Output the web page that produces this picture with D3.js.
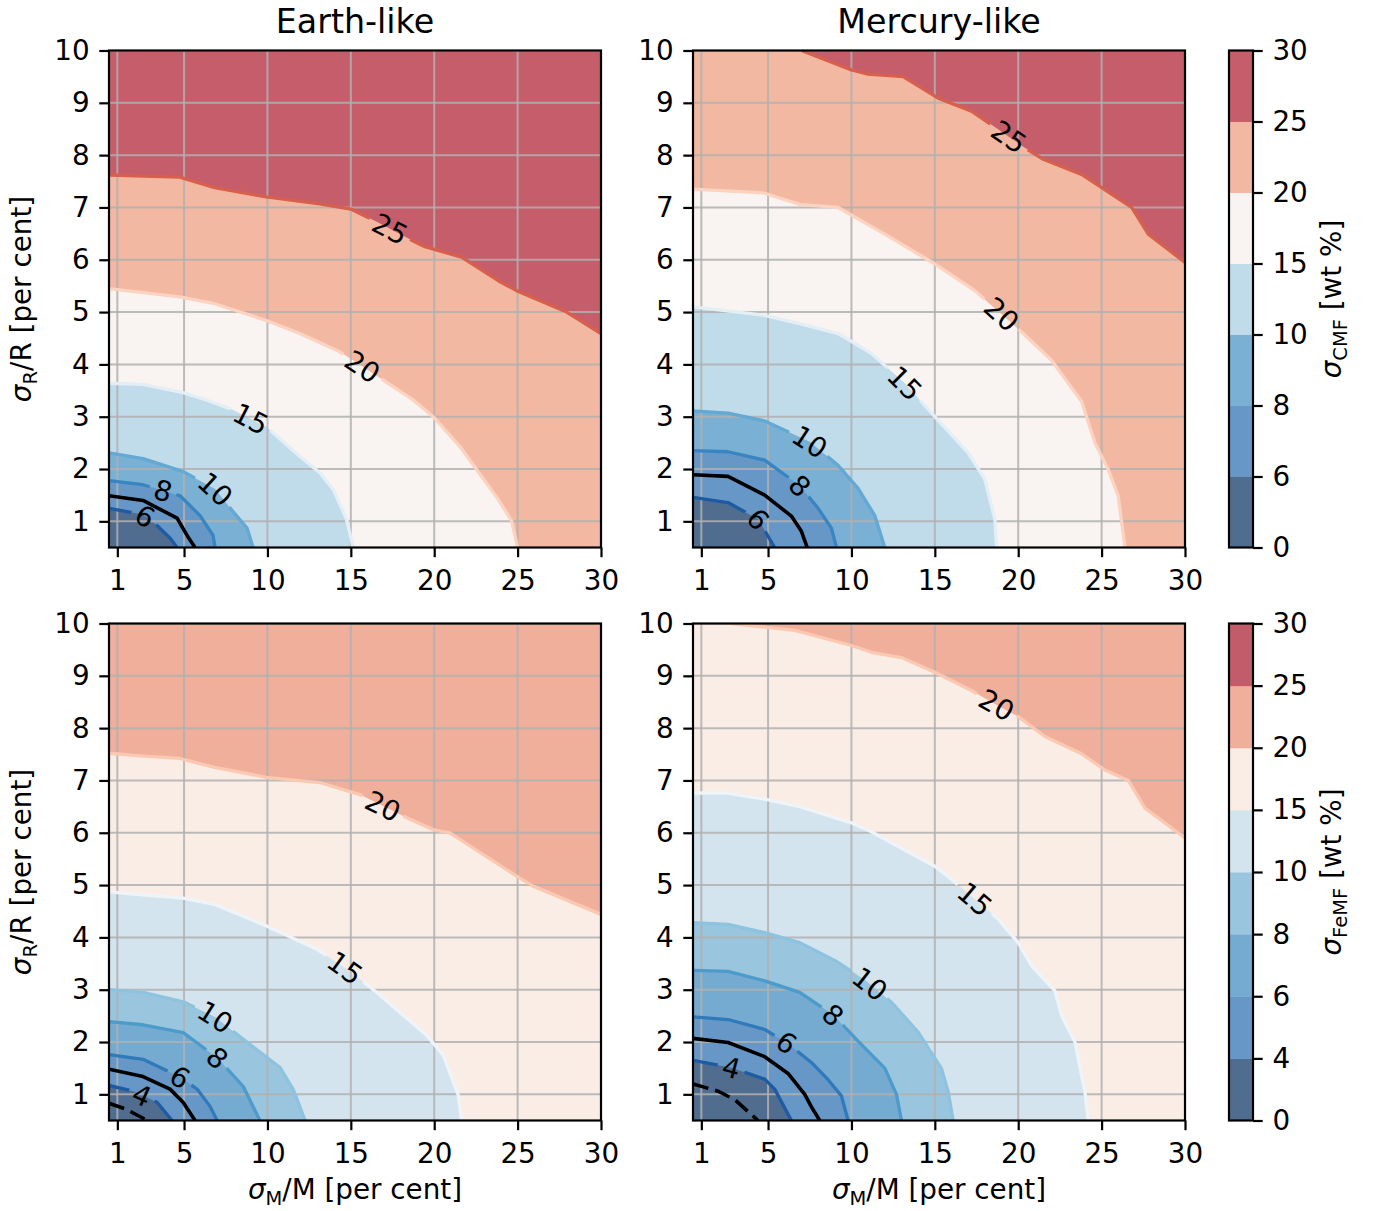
<!DOCTYPE html>
<html lang="en">
<head>
	<meta charset="utf-8">
	<title>CMF and FeMF uncertainty</title>
	<script src="https://d3js.org/d3.v7.min.js"></script>
	<style>
	body {margin: 0; background: #fff;}
	text {font-family: "DejaVu Sans", sans-serif; fill: #000;}
	</style>
</head>
<body>
<div id="chart"></div>
<script>

// Axis ticks and colourbar levels
var xTicks = [1, 5, 10, 15, 20, 25, 30];
var yTicks = [1, 2, 3, 4, 5, 6, 7, 8, 9, 10];
var cmfLevels = [0, 6, 8, 10, 15, 20, 25, 30];
var femfLevels = [0, 4, 6, 8, 10, 15, 20, 25, 30];
var titles = ["Earth-like", "Mercury-like"];

// Contour lines: [level, [[sigmaM/M, sigmaR/R], ...]]
var earthCmf = [
	[25, [[0.5,7.62],[4.74,7.58],[6.84,7.38],[9.94,7.2],[13.14,7.07],[15,6.97],[16.64,6.71],[18.74,6.36],[19.44,6.25],[21.64,6.05],[23.84,5.6],[24.94,5.41],[27.94,5.0],[30,4.59]]],
	[20, [[0.5,5.45],[4.74,5.29],[6.84,5.16],[9.94,4.84],[11.94,4.59],[14.34,4.24],[16.94,3.7],[18.74,3.32],[19.94,3.0],[21.54,2.43],[22.54,1.99],[23.84,1.42],[24.64,1.01],[25.0,0.5]]],
	[15, [[0.5,3.64],[2.54,3.62],[4.94,3.46],[6.34,3.32],[7.94,3.13],[9.94,2.81],[11.94,2.24],[13.14,1.93],[13.94,1.61],[14.74,1.04],[15.14,0.5]]],
	[10, [[0.5,2.31],[2.54,2.2],[4.96,1.95],[6.86,1.62],[7.95,1.18],[8.78,0.87],[9.14,0.5]]],
	[8, [[0.5,1.78],[2.54,1.7],[4.76,1.49],[5.96,1.11],[6.74,0.73],[6.86,0.5]]],
	[6, [[0.5,1.25],[2.54,1.13],[3.38,0.92],[4.16,0.68],[4.58,0.5]]]
];
var earthCmfRef = [[0.5,1.49],[2.54,1.4],[4.58,1.06],[5.18,0.73],[5.66,0.5]];

var mercuryCmf = [
	[25, [[7.0,10],[10.0,9.63],[11.0,9.55],[13.1,9.5],[15.2,9.09],[17.2,8.84],[18.4,8.58],[20.4,8.14],[21.5,7.92],[23.8,7.63],[26.8,7.0],[27.8,6.49],[30,5.95]]],
	[20, [[0.5,7.35],[4.7,7.28],[6.9,7.06],[9.2,7.0],[12.0,6.49],[15.0,5.92],[17.4,5.41],[20.2,4.62],[22.0,4.08],[23.8,3.29],[24.6,2.5],[25.4,1.99],[26.0,1.48],[26.4,0.5]]],
	[15, [[0.5,5.1],[4.7,4.94],[6.9,4.78],[9.2,4.59],[11.2,4.21],[13.2,3.64],[15.0,3.0],[17.0,2.31],[18.0,1.8],[18.6,1.04],[18.7,0.5]]],
	[10, [[0.5,3.11],[2.6,3.07],[4.8,2.92],[7.5,2.52],[9.2,2.07],[10.4,1.63],[11.4,1.11],[12.0,0.5]]],
	[8, [[0.5,2.35],[2.6,2.33],[4.8,2.17],[6.9,1.68],[8.0,1.25],[8.8,0.87],[9.1,0.5]]],
	[6, [[0.5,1.46],[2.6,1.36],[4.4,1.04],[5.4,0.5]]]
];
var mercuryCmfRef = [[0.5,1.89],[2.6,1.86],[4.8,1.5],[6.4,1.1],[7.0,0.81],[7.35,0.5]];

var earthFemf = [
	[20, [[0.5,7.52],[2.34,7.47],[4.74,7.42],[6.84,7.25],[9.94,7.06],[13.14,6.96],[15.54,6.73],[18.54,6.26],[19.94,6.06],[20.94,6.0],[24.94,5.17],[25.94,4.98],[30,4.44]]],
	[15, [[0.5,4.87],[2.34,4.82],[4.94,4.75],[6.84,4.63],[9.94,4.22],[12.94,3.78],[14.74,3.4],[16.54,2.95],[17.94,2.57],[19.54,2.13],[20.54,1.75],[21.44,0.99],[21.64,0.5]]],
	[10, [[0.5,3.0],[2.54,2.95],[4.95,2.77],[6.86,2.48],[8.36,2.1],[10.76,1.51],[11.55,1.09],[12.26,0.5]]],
	[8, [[0.5,2.39],[2.54,2.33],[4.95,2.18],[6.98,1.7],[8.55,1.15],[9.55,0.5]]],
	[6, [[0.5,1.76],[2.54,1.67],[4.76,1.33],[5.78,1.1],[6.56,0.77],[6.98,0.5]]],
	[4, [[0.5,1.17],[1.94,1.06],[3.38,0.85],[4.28,0.5]]]
];
var earthFemfRef = [[0.5,1.48],[2.54,1.34],[4.16,1.1],[4.94,0.85],[5.66,0.5]];
var earthFemfDash = [[0.5,0.83],[1.5,0.72],[2.8,0.5]];

var mercuryFemf = [
	[20, [[2.8,10],[6.6,9.87],[10.0,9.58],[11.2,9.45],[13.0,9.35],[15.0,9.07],[17.2,8.72],[18.6,8.46],[20.0,8.22],[21.6,7.84],[23.8,7.51],[25.2,7.2],[26.6,7.0],[27.6,6.47],[30,5.9]]],
	[15, [[0.5,6.76],[2.6,6.76],[5.0,6.63],[6.9,6.5],[10.0,6.19],[11.2,6.02],[13.2,5.67],[15.0,5.36],[16.0,5.11],[17.4,4.73],[18.8,4.35],[20.0,3.9],[20.8,3.46],[22.2,2.98],[22.6,2.51],[23.4,2.0],[24.0,1.05],[24.2,0.5]]],
	[10, [[0.5,4.28],[2.6,4.25],[4.8,4.09],[6.9,3.9],[9.0,3.56],[10.8,3.19],[12.4,2.76],[14.0,2.19],[15.4,1.49],[15.8,1.05],[16.1,0.5]]],
	[8, [[0.5,3.37],[2.6,3.35],[4.8,3.17],[6.9,2.95],[8.9,2.52],[10.6,1.95],[12.0,1.5],[12.7,1.0],[13.0,0.5]]],
	[6, [[0.5,2.48],[2.6,2.43],[4.8,2.24],[6.1,1.99],[7.6,1.61],[8.6,1.28],[9.4,0.97],[9.8,0.5]]],
	[4, [[0.5,1.65],[2.8,1.51],[4.8,1.29],[5.4,1.1],[6.4,0.5]]]
];
var mercuryFemfRef = [[0.5,2.07],[2.6,1.99],[4.8,1.72],[6.2,1.4],[7.2,1.0],[7.6,0.76],[8.1,0.5]];
var mercuryFemfDash = [[0.5,1.2],[2.0,1.06],[3.0,0.9],[4.4,0.5]];

// Inline contour labels: [level, sigmaM/M where the label sits]
var earthCmfLabels = [[25,17.35],[20,15.7],[15,9.0],[10,6.87],[8,3.74],[6,2.66]];
var mercuryCmfLabels = [[25,19.45],[20,19.0],[15,13.2],[10,7.5],[8,6.9],[6,4.4]];
var earthFemfLabels = [[20,16.93],[15,14.65],[10,6.87],[8,6.99],[6,4.76],[4,2.48]];
var mercuryFemfLabels = [[20,18.7],[15,17.4],[10,11.1],[8,8.9],[6,6.1],[4,2.8]];

// Colours
var cmfFill = ["#506c8f", "#6797c7", "#7ab0d4", "#c0dceb", "#f9f3f1", "#f3b8a1", "#c55d6b"];
var femfFill = ["#506c8f", "#6797c7", "#75abd1", "#99c6de", "#d4e4ee", "#faede6", "#f0af9b", "#c35c6a"];
var cmfLine = {6: "#1d5ba3", 8: "#3885c1", 10: "#64a8d4", 15: "#e3eef5", 20: "#fbd3c0", 25: "#d6604d"};
var femfLine = {4: "#1d5ba3", 6: "#3079ba", 8: "#4d9bcb", 10: "#8ec3df", 15: "#eef4f8", 20: "#fbc8b2"};

// Layout
var fs = 27.8;
var plotW = 492, plotH = 497;
var colX = [109, 693];
var rowY = [50.5, 623.5];
var cbX = 1229, cbW = 24;

var svg = d3.select("#chart").append("svg")
	.attr("width", 1373)
	.attr("height", 1211);
var defs = svg.append("defs");

var panels = [
	{col: 0, row: 0, lines: earthCmf, ref: earthCmfRef, dash: null, labels: earthCmfLabels, levels: cmfLevels, fill: cmfFill, stroke: cmfLine},
	{col: 1, row: 0, lines: mercuryCmf, ref: mercuryCmfRef, dash: null, labels: mercuryCmfLabels, levels: cmfLevels, fill: cmfFill, stroke: cmfLine},
	{col: 0, row: 1, lines: earthFemf, ref: earthFemfRef, dash: earthFemfDash, labels: earthFemfLabels, levels: femfLevels, fill: femfFill, stroke: femfLine},
	{col: 1, row: 1, lines: mercuryFemf, ref: mercuryFemfRef, dash: mercuryFemfDash, labels: mercuryFemfLabels, levels: femfLevels, fill: femfFill, stroke: femfLine}
];

// value of a polyline at a given x
function interp(pts, xv) {
	for (var i = 0; i < pts.length - 1; i++) {
		var a = pts[i], b = pts[i + 1];
		if (xv >= a[0] && xv <= b[0]) {
			var t = (b[0] === a[0]) ? 0 : (xv - a[0]) / (b[0] - a[0]);
			return a[1] + t * (b[1] - a[1]);
		}
	}
	return pts[pts.length - 1][1];
}

// sigma with a roman subscript
function sigmaText(sel, sub, rest) {
	sel.append("tspan").attr("font-style", "italic").text("σ");
	sel.append("tspan").attr("font-size", fs * 0.7).attr("dy", 6).text(sub);
	sel.append("tspan").attr("dy", -6).text(rest);
}

panels.forEach(function(p, pi) {
	var x0 = colX[p.col], y0 = rowY[p.row];
	var x = d3.scaleLinear().domain([0.5, 30]).range([x0, x0 + plotW]);
	var y = d3.scaleLinear().domain([0.5, 10]).range([y0 + plotH, y0]);
	var line = d3.line().x(function(d){return x(d[0]);}).y(function(d){return y(d[1]);});

	defs.append("clipPath").attr("id", "clip" + pi)
		.append("rect").attr("x", x0).attr("y", y0).attr("width", plotW).attr("height", plotH);

	var g = svg.append("g").attr("clip-path", "url(#clip" + pi + ")");

	// filled bands, from the top band down
	g.append("rect")
		.attr("x", x0).attr("y", y0).attr("width", plotW).attr("height", plotH)
		.attr("fill", p.fill[p.levels.indexOf(p.lines[0][0])]);
	p.lines.forEach(function(l) {
		var pts = l[1].concat([[30, 0.5], [0.5, 0.5], [0.5, 10]]);
		g.append("path")
			.attr("d", line(pts) + "Z")
			.attr("fill", p.fill[p.levels.indexOf(l[0]) - 1]);
	});

	// grid
	g.selectAll(".gx").data(xTicks).enter().append("line")
		.attr("x1", function(d){return x(d);}).attr("x2", function(d){return x(d);})
		.attr("y1", y0).attr("y2", y0 + plotH)
		.attr("stroke", "#b0b0b0").attr("stroke-width", 2).attr("stroke-opacity", 0.85);
	g.selectAll(".gy").data(yTicks).enter().append("line")
		.attr("y1", function(d){return y(d);}).attr("y2", function(d){return y(d);})
		.attr("x1", x0).attr("x2", x0 + plotW)
		.attr("stroke", "#b0b0b0").attr("stroke-width", 2).attr("stroke-opacity", 0.85);

	// labels first, so their width can cut the lines
	var lab = svg.append("g");
	var gaps = {};
	p.labels.forEach(function(lb) {
		var pts = p.lines.find(function(l){return l[0] === lb[0];})[1];
		var px = x(lb[1]), py = y(interp(pts, lb[1]));
		var xa = Math.max(0.5, lb[1] - 1), xb = Math.min(30, lb[1] + 1);
		var ang = Math.atan2(y(interp(pts, xb)) - y(interp(pts, xa)), x(xb) - x(xa)) * 180 / Math.PI;
		var t = lab.append("text")
			.attr("transform", "translate(" + px + "," + py + ") rotate(" + ang + ")")
			.attr("text-anchor", "middle")
			.attr("dy", "0.36em")
			.attr("font-size", fs)
			.text(lb[0]);
		gaps[lb[0]] = {x: px, y: py, a: ang, w: t.node().getComputedTextLength() + 10};
	});

	var lg = g.append("g");
	p.lines.forEach(function(l) {
		var path = lg.append("path")
			.attr("d", line(l[1]))
			.attr("fill", "none")
			.attr("stroke", p.stroke[l[0]])
			.attr("stroke-width", 3.3)
			.attr("stroke-linejoin", "round");
		var gp = gaps[l[0]];
		if (gp) {
			var id = "m" + pi + "_" + l[0];
			var m = defs.append("mask").attr("id", id).attr("maskUnits", "userSpaceOnUse")
				.attr("x", 0).attr("y", 0).attr("width", 1373).attr("height", 1211);
			m.append("rect").attr("x", 0).attr("y", 0).attr("width", 1373).attr("height", 1211).attr("fill", "#fff");
			m.append("rect")
				.attr("x", -gp.w / 2).attr("y", -9).attr("width", gp.w).attr("height", 18)
				.attr("transform", "translate(" + gp.x + "," + gp.y + ") rotate(" + gp.a + ")")
				.attr("fill", "#000");
			path.attr("mask", "url(#" + id + ")");
		}
	});
	lg.append("path").attr("d", line(p.ref))
		.attr("fill", "none").attr("stroke", "#000").attr("stroke-width", 3.6).attr("stroke-linejoin", "round");
	if (p.dash) {
		lg.append("path").attr("d", line(p.dash))
			.attr("fill", "none").attr("stroke", "#000").attr("stroke-width", 3.6)
			.attr("stroke-dasharray", "16,7");
	}
	lab.raise();

	// frame
	svg.append("rect")
		.attr("x", x0).attr("y", y0).attr("width", plotW).attr("height", plotH)
		.attr("fill", "none").attr("stroke", "#000").attr("stroke-width", 2.2);

	// axes
	var ax = svg.append("g").attr("transform", "translate(0," + (y0 + plotH) + ")")
		.call(d3.axisBottom(x).tickValues(xTicks).tickSize(9.7).tickPadding(12.6));
	var ay = svg.append("g").attr("transform", "translate(" + x0 + ",0)")
		.call(d3.axisLeft(y).tickValues(yTicks).tickSize(9.7).tickPadding(9.7));
	[ax, ay].forEach(function(a) {
		a.select(".domain").remove();
		a.attr("font-size", fs).attr("font-family", null);
		a.selectAll("line").attr("stroke-width", 2.2);
	});

	if (p.row === 0) {
		svg.append("text")
			.attr("x", x0 + plotW / 2).attr("y", 33)
			.attr("text-anchor", "middle").attr("font-size", 33.3)
			.text(titles[p.col]);
	}
	if (p.row === 1) {
		sigmaText(svg.append("text")
			.attr("x", x0 + plotW / 2).attr("y", 1199)
			.attr("text-anchor", "middle").attr("font-size", fs), "M", "/M [per cent]");
	}
	if (p.col === 0) {
		sigmaText(svg.append("text")
			.attr("transform", "translate(31," + (y0 + plotH / 2) + ") rotate(-90)")
			.attr("text-anchor", "middle").attr("font-size", fs), "R", "/R [per cent]");
	}
});

// colourbars
[{row: 0, levels: cmfLevels, fill: cmfFill, name: "CMF"},
 {row: 1, levels: femfLevels, fill: femfFill, name: "FeMF"}].forEach(function(c) {
	var y0 = rowY[c.row];
	var n = c.levels.length - 1;
	var cb = d3.scaleLinear().domain([0, n]).range([y0 + plotH, y0]);
	svg.selectAll(".cb" + c.row).data(c.fill).enter().append("rect")
		.attr("x", cbX).attr("width", cbW)
		.attr("y", function(d, i){return cb(i + 1);})
		.attr("height", function(d, i){return cb(i) - cb(i + 1) + 0.5;})
		.attr("fill", function(d){return d;});
	svg.append("rect")
		.attr("x", cbX).attr("y", y0).attr("width", cbW).attr("height", plotH)
		.attr("fill", "none").attr("stroke", "#000").attr("stroke-width", 2.2);
	var a = svg.append("g").attr("transform", "translate(" + (cbX + cbW) + ",0)")
		.call(d3.axisRight(cb).tickValues(d3.range(n + 1))
			.tickFormat(function(i){return c.levels[i];})
			.tickSize(9.7).tickPadding(9.7));
	a.select(".domain").remove();
	a.attr("font-size", fs).attr("font-family", null);
	a.selectAll("line").attr("stroke-width", 2.2);
	sigmaText(svg.append("text")
		.attr("transform", "translate(1341," + (y0 + plotH / 2) + ") rotate(-90)")
		.attr("text-anchor", "middle").attr("font-size", fs), c.name, " [wt %]");
});

</script>
</body>
</html>
